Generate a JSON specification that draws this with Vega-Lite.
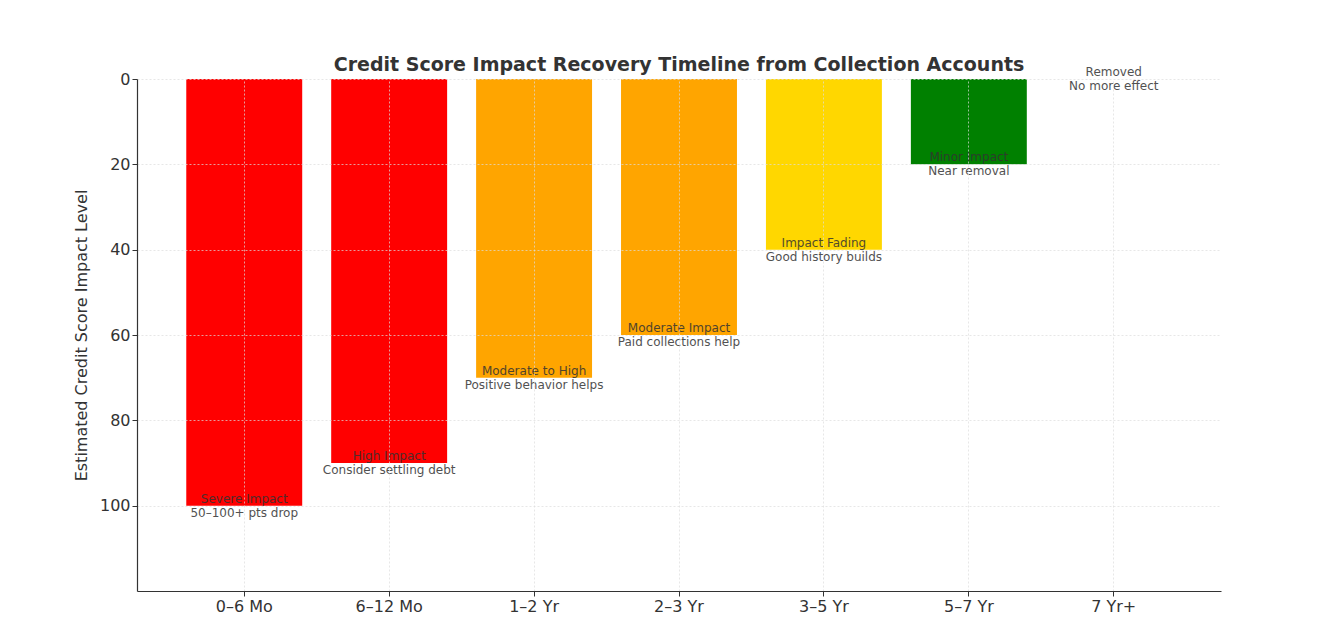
{
  "$schema": "https://vega.github.io/schema/vega-lite/v6.json",
  "autosize": {"type": "none"},
  "padding": {"left": 137, "top": 79, "right": 123, "bottom": 39},
  "width": 1084,
  "height": 512,
  "background": "white",
  "title": {
    "text": "Credit Score Impact Recovery Timeline from Collection Accounts",
    "font": "DejaVu Sans",
    "fontSize": 19,
    "fontWeight": "bold",
    "color": "#333333",
    "offset": -9,
    "anchor": "middle"
  },
  "config": {
    "view": {"stroke": null},
    "axis": {
      "labelFont": "DejaVu Sans",
      "titleFont": "DejaVu Sans",
      "labelFontSize": 16,
      "titleFontSize": 16,
      "titleFontWeight": "normal",
      "labelColor": "#333333",
      "titleColor": "#333333",
      "domainColor": "#333333",
      "domainWidth": 1.2,
      "tickColor": "#333333",
      "gridColor": "#dddddd",
      "gridDash": [2, 2],
      "gridWidth": 0.7,
      "tickSize": 5
    }
  },
  "data": {
    "values": [
      {"period": "0–6 Mo", "impact": 100, "status": "Severe", "label": "Severe Impact\n50–100+ pts drop"},
      {"period": "6–12 Mo", "impact": 90, "status": "High", "label": "High Impact\nConsider settling debt"},
      {"period": "1–2 Yr", "impact": 70, "status": "ModHigh", "label": "Moderate to High\nPositive behavior helps"},
      {"period": "2–3 Yr", "impact": 60, "status": "Moderate", "label": "Moderate Impact\nPaid collections help"},
      {"period": "3–5 Yr", "impact": 40, "status": "Fading", "label": "Impact Fading\nGood history builds"},
      {"period": "5–7 Yr", "impact": 20, "status": "Minor", "label": "Minor Impact\nNear removal"},
      {"period": "7 Yr+", "impact": 0, "status": "Removed", "label": "Removed\nNo more effect"}
    ]
  },
  "encoding": {
    "x": {
      "field": "period",
      "type": "nominal",
      "sort": null,
      "scale": {"paddingInner": 0.2, "paddingOuter": 0.34},
      "axis": {"title": null, "labelAngle": 0, "grid": true, "zindex": 1, "labelPadding": 2}
    },
    "y": {
      "field": "impact",
      "type": "quantitative",
      "scale": {"domain": [0, 120], "reverse": true, "nice": false},
      "axis": {"title": "Estimated Credit Score Impact Level", "values": [0, 20, 40, 60, 80, 100], "grid": true, "zindex": 1, "titlePadding": 10}
    }
  },
  "layer": [
    {
      "mark": {"type": "bar"},
      "encoding": {
        "color": {
          "field": "status",
          "type": "nominal",
          "scale": {
            "domain": ["Severe", "High", "ModHigh", "Moderate", "Fading", "Minor", "Removed"],
            "range": ["#ff0000", "#ff0000", "#ffa500", "#ffa500", "#ffd700", "#008000", "#cccccc"]
          },
          "legend": null
        }
      }
    },
    {
      "mark": {
        "type": "text",
        "font": "DejaVu Sans",
        "fontSize": 12,
        "lineBreak": "\n",
        "lineHeight": 14,
        "baseline": "middle",
        "align": "center",
        "color": "#333333",
        "opacity": 0.85,
        "dy": -7
      },
      "encoding": {
        "text": {"field": "label"}
      }
    }
  ]
}
